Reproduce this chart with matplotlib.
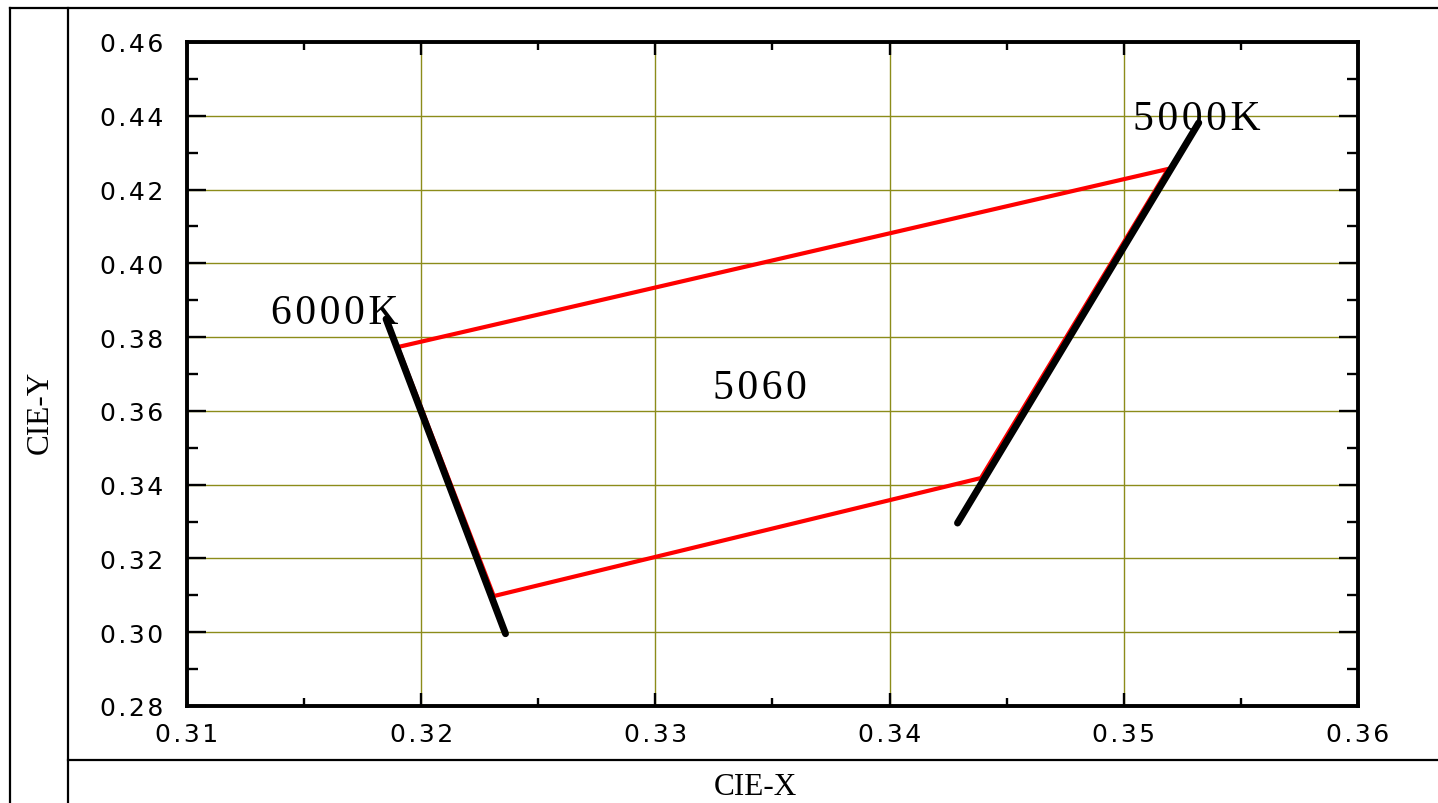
import matplotlib
matplotlib.use("Agg")
import matplotlib.pyplot as plt
from matplotlib.lines import Line2D
from matplotlib.ticker import MultipleLocator, FixedLocator

# ---- data ----
region_x = [0.3190, 0.3519, 0.3439, 0.3231, 0.3190]
region_y = [0.3773, 0.4256, 0.3418, 0.3098, 0.3773]
cct6000_x = [0.3185, 0.3236]
cct6000_y = [0.3849, 0.2996]
cct5000_x = [0.3429, 0.3532]
cct5000_y = [0.3296, 0.4381]
x_ticks = [0.31, 0.32, 0.33, 0.34, 0.35, 0.36]
y_ticks = [0.28, 0.30, 0.32, 0.34, 0.36, 0.38, 0.40, 0.42, 0.44, 0.46]
label_6000 = "6000K"
label_5000 = "5000K"
label_bin = "5060"

SANS = ["DejaVu Sans"]
SERIF = ["Liberation Serif", "DejaVu Serif"]

def spaced(s, sp):
    return sp.join(list(s))

W, H = 1438, 804
fig = plt.figure(figsize=(W / 100, H / 100), dpi=100)
ax = fig.add_axes([187 / W, 1 - 707 / H, (1358 - 187) / W, (707 - 43) / H])

ax.grid(True, which="major", color="#8c8c1a", linewidth=1.0, zorder=0)
ax.plot(region_x, region_y, color="#ff0000", linewidth=3.0, zorder=3,
        solid_joinstyle="miter")
ax.plot(cct6000_x, cct6000_y, color="black", linewidth=5.0, zorder=4,
        solid_capstyle="round")
ax.plot(cct5000_x, cct5000_y, color="black", linewidth=5.0, zorder=4,
        solid_capstyle="round")

ax.set_xlim(0.31, 0.36)
ax.set_ylim(0.28, 0.46)
ax.xaxis.set_major_locator(FixedLocator(x_ticks))
ax.yaxis.set_major_locator(FixedLocator(y_ticks))
ax.xaxis.set_minor_locator(MultipleLocator(0.005))
ax.yaxis.set_minor_locator(MultipleLocator(0.01))
ax.set_xticklabels([spaced(f"{v:.2f}", "\u200a") for v in x_ticks],
                   family=SANS, fontsize=18)
ax.set_yticklabels([spaced(f"{v:.2f}", "\u200a") for v in y_ticks],
                   family=SANS, fontsize=18)

for s in ax.spines.values():
    s.set_linewidth(2.8)
    s.set_zorder(6)

ax.tick_params(axis="x", which="major", direction="in", length=9.5, width=1.7,
               top=True, bottom=True, pad=11.5)
ax.tick_params(axis="x", which="minor", direction="in", length=5.8, width=1.7,
               top=True, bottom=True)
ax.tick_params(axis="y", which="major", direction="in", length=13.7, width=1.7,
               left=True, right=True, pad=17.3)
ax.tick_params(axis="y", which="minor", direction="in", length=7.9, width=1.7,
               left=True, right=True)

# annotations
ax.text(0.31360, 0.3838, spaced(label_6000, "\u200a"), family=SERIF,
        fontsize=30, ha="left", va="baseline", zorder=7)
ax.text(0.35039, 0.4364, spaced(label_5000, "\u200a"), family=SERIF,
        fontsize=30, ha="left", va="baseline", zorder=7)
ax.text(0.33247, 0.3634, spaced(label_bin, "\u200a"), family=SERIF,
        fontsize=30, ha="left", va="baseline", zorder=7)

# axis titles placed in the table-like frame
fig.text(40 / W, 1 - 412 / H, "CIE-Y", family=SERIF, fontsize=22.5,
         rotation=90, ha="center", va="center")
fig.text(755 / W, 1 - 788 / H, "CIE-X", family=SERIF, fontsize=22.5,
         ha="center", va="center")

# frame lines
def fline(x0, y0, x1, y1):
    fig.add_artist(Line2D([x0 / W, x1 / W], [1 - y0 / H, 1 - y1 / H],
                          color="black", linewidth=1.6))
fline(10, 9, W, 9)
fline(10, 9, 10, H)
fline(68, 9, 68, H)
fline(68, 761, W, 761)

fig.savefig("out.png", dpi=100)
